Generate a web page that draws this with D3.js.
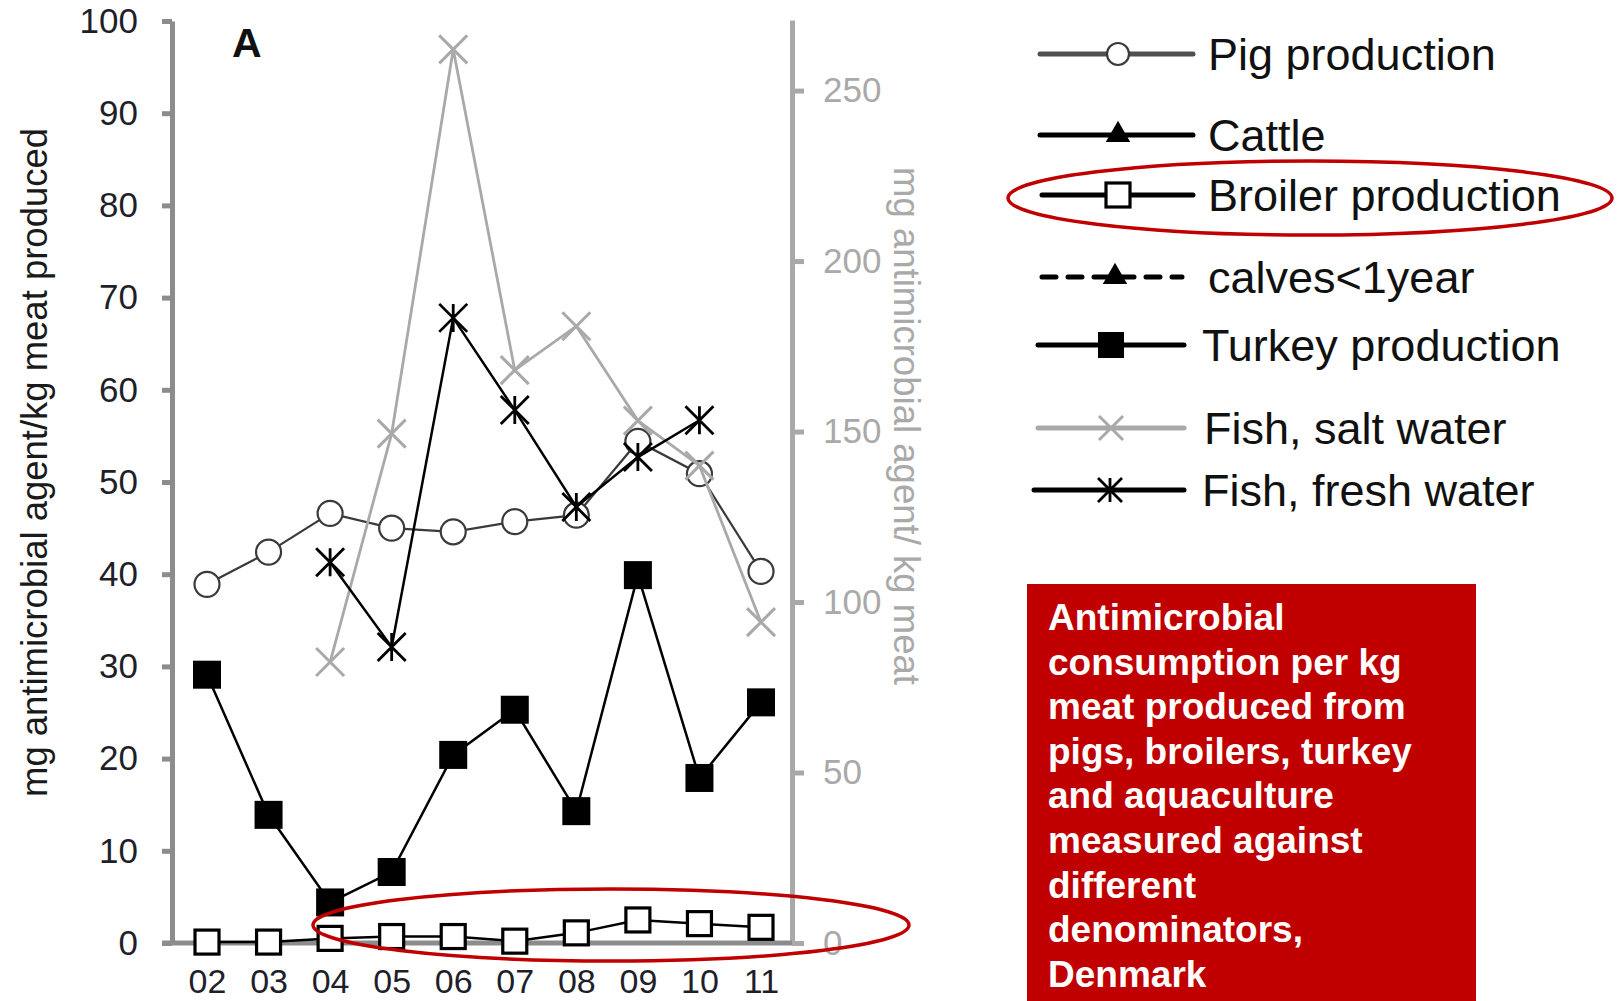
<!DOCTYPE html>
<html><head><meta charset="utf-8">
<script src="https://cdn.jsdelivr.net/npm/d3@7"></script>
<style>
body{margin:0;background:#fff}
svg{display:block;font-family:"Liberation Sans",Arial,Helvetica,sans-serif}
</style>
</head><body>
<svg id="chart" width="1618" height="1001"></svg>
<script>
// ---------- data ----------
const years = ["02","03","04","05","06","07","08","09","10","11"];
const pigProduction    = [38.9, 42.4, 46.6, 45.0, 44.6, 45.7, 46.4, 54.4, 50.9, 40.3];
const cattle           = [null, null, null, null, null, null, null, null, null, null];
const broilerProduction= [0.1, 0.1, 0.5, 0.7, 0.7, 0.2, 1.1, 2.5, 2.1, 1.7];
const calvesUnder1Year = [null, null, null, null, null, null, null, null, null, null];
const turkeyProduction = [29.1, 13.9, 4.4, 7.7, 20.4, 25.3, 14.3, 39.9, 17.9, 26.1];
const fishSaltWater    = [null, null, 82.4, 149.4, 262.1, 168.0, 180.9, 153.2, 140.0, 94.1]; // right axis
const fishFreshWater   = [null, null, 41.3, 32.1, 67.8, 57.8, 47.3, 52.7, 56.7, null];
const leftTicks  = [0,10,20,30,40,50,60,70,80,90,100];
const rightTicks = [0,50,100,150,200,250];
const leftTitle  = "mg antimicrobial agent/kg meat produced";
const rightTitle = "mg antimicrobial agent/ kg meat";
const panelLabel = "A";
const legendLabels = ["Pig production","Cattle","Broiler production","calves<1year","Turkey production","Fish, salt water","Fish, fresh water"];
const boxLines = ["Antimicrobial","consumption per kg","meat produced from","pigs, broilers, turkey","and aquaculture","measured against","different","denominators,","Denmark"];

// ---------- layout ----------
const svg = d3.select("#chart");
const L = {axL:172, axR:792, top:21, bottom:943, x0:207, x1:761};
const GRAY_AX = "#8c8c8c", GRAY_R = "#a9a9a9", RED = "#c00000";

const x  = d3.scalePoint().domain(years).range([L.x0, L.x1]);
const yL = d3.scaleLinear().domain([0,100]).range([L.bottom, L.top]);
const yR = d3.scaleLinear().domain([0,270.7]).range([L.bottom, 20]);

// left axis
const gL = svg.append("g").attr("transform",`translate(${L.axL},0)`)
  .call(d3.axisLeft(yL).tickValues(leftTicks).tickSize(10).tickSizeOuter(0).tickPadding(24));
gL.select(".domain").attr("stroke",GRAY_AX).attr("stroke-width",5);
gL.selectAll(".tick line").attr("stroke",GRAY_AX).attr("stroke-width",5);
gL.selectAll(".tick text").attr("font-size",35).attr("fill","#1f1f2a").attr("font-family","Liberation Sans, Arial");

// right axis
const gR = svg.append("g").attr("transform",`translate(${L.axR},0)`)
  .call(d3.axisRight(yR).tickValues(rightTicks).tickSize(12).tickSizeOuter(0).tickPadding(19));
gR.select(".domain").attr("stroke",GRAY_R).attr("stroke-width",5);
gR.selectAll(".tick line").attr("stroke",GRAY_R).attr("stroke-width",5);
gR.selectAll(".tick text").attr("font-size",35).attr("fill",GRAY_R).attr("font-family","Liberation Sans, Arial");

// baseline (x axis line)
svg.append("line").attr("x1",L.axL-10).attr("x2",L.axR).attr("y1",yL(0)).attr("y2",yL(0))
  .attr("stroke",GRAY_AX).attr("stroke-width",5);

// x axis labels
const gX = svg.append("g").attr("transform",`translate(0,${L.bottom})`)
  .call(d3.axisBottom(x).tickSize(0).tickPadding(26));
gX.select(".domain").remove();
gX.selectAll(".tick text").attr("font-size",34).attr("fill","#1f1f2a").attr("font-family","Liberation Sans, Arial");

// axis titles
svg.append("text").attr("transform",`translate(47,${(128+797)/2}) rotate(-90)`)
  .attr("text-anchor","middle").attr("font-size",36).attr("fill","#1a1a1a")
  .attr("textLength",669).attr("lengthAdjust","spacingAndGlyphs").text(leftTitle);
svg.append("text").attr("transform",`translate(894,${(167+685)/2}) rotate(90)`)
  .attr("text-anchor","middle").attr("font-size",36).attr("fill",GRAY_R)
  .attr("textLength",518).attr("lengthAdjust","spacingAndGlyphs").text(rightTitle);

svg.append("text").attr("x",232).attr("y",57).attr("font-size",41).attr("font-weight","bold")
  .attr("fill","#111").text(panelLabel);

// ---------- marker helpers ----------
function drawMarker(g, type, cx, cy, s){
  if(type==="circle"){
    g.append("circle").attr("cx",cx).attr("cy",cy).attr("r",s/2)
      .attr("fill","#fff").attr("stroke","#3a3a3a").attr("stroke-width",2.2);
  } else if(type==="filledSquare"){
    g.append("rect").attr("x",cx-s/2).attr("y",cy-s/2).attr("width",s).attr("height",s).attr("fill","#000");
  } else if(type==="openSquare"){
    g.append("rect").attr("x",cx-s/2).attr("y",cy-s/2).attr("width",s).attr("height",s)
      .attr("fill","#fff").attr("stroke","#000").attr("stroke-width",3.2);
  } else if(type==="triangle"){
    g.append("path").attr("transform",`translate(${cx},${cy})`)
      .attr("d",d3.symbol(d3.symbolTriangle, s*s*0.45)()).attr("fill","#000");
  } else if(type==="x"){
    const h=s/2;
    g.append("path").attr("d",`M${cx-h},${cy-h}L${cx+h},${cy+h}M${cx-h},${cy+h}L${cx+h},${cy-h}`)
      .attr("stroke",GRAY_R).attr("stroke-width",3).attr("fill","none");
  } else if(type==="star"){
    const h=s/2;
    g.append("path").attr("d",`M${cx-h},${cy-h}L${cx+h},${cy+h}M${cx-h},${cy+h}L${cx+h},${cy-h}M${cx},${cy-h}L${cx},${cy+h}`)
      .attr("stroke","#000").attr("stroke-width",2.8).attr("fill","none");
  }
}

// ---------- series ----------
const series = [
  {name:legendLabels[0], vals:pigProduction,    y:yL, stroke:"#3a3a3a", w:2.2, marker:"circle",       ms:25, lw:5, lstroke:"#505050"},
  {name:legendLabels[1], vals:cattle,           y:yL, stroke:"#000",    w:2.5, marker:"triangle",     ms:24, lw:5, lstroke:"#000"},
  {name:legendLabels[2], vals:broilerProduction,y:yL, stroke:"#000",    w:2.5, marker:"openSquare",   ms:24, lw:5, lstroke:"#000"},
  {name:legendLabels[3], vals:calvesUnder1Year, y:yL, stroke:"#000",    w:2.5, marker:"triangle",     ms:24, lw:5, lstroke:"#000", dash:"15,10"},
  {name:legendLabels[4], vals:turkeyProduction, y:yL, stroke:"#000",    w:2.5, marker:"filledSquare", ms:28, lw:5, lstroke:"#000"},
  {name:legendLabels[5], vals:fishSaltWater,    y:yR, stroke:GRAY_R,    w:2.8, marker:"x",            ms:28, lw:5, lstroke:GRAY_R},
  {name:legendLabels[6], vals:fishFreshWater,   y:yL, stroke:"#000",    w:2.5, marker:"star",         ms:28, lw:5, lstroke:"#000"}
];

const plot = svg.append("g");
series.forEach(s=>{
  const pts = years.map((yr,i)=>({yr, v:s.vals[i]})).filter(d=>d.v!==null);
  if(!pts.length) return;
  const line = d3.line().x(d=>x(d.yr)).y(d=>s.y(d.v));
  plot.append("path").datum(pts).attr("d",line).attr("fill","none")
    .attr("stroke",s.stroke).attr("stroke-width",s.w).attr("stroke-dasharray",s.dash||null);
  pts.forEach(d=>drawMarker(plot, s.marker, x(d.yr), s.y(d.v), s.ms));
});

// ---------- legend ----------
const legRows = [
  {y:54,  x1:1040, x2:1193, mx:1118, tx:1208},
  {y:135, x1:1040, x2:1193, mx:1118, tx:1208},
  {y:195, x1:1042, x2:1193, mx:1118, tx:1208},
  {y:277, x1:1042, x2:1182, mx:1115, tx:1208},
  {y:345, x1:1038, x2:1184, mx:1111, tx:1202},
  {y:428, x1:1038, x2:1184, mx:1111, tx:1204},
  {y:490, x1:1034, x2:1184, mx:1110, tx:1202}
];
const leg = svg.append("g");
series.forEach((s,i)=>{
  const r = legRows[i];
  leg.append("line").attr("x1",r.x1).attr("x2",r.x2).attr("y1",r.y).attr("y2",r.y)
    .attr("stroke",s.lstroke).attr("stroke-width",s.lw).attr("stroke-linecap","round")
    .attr("stroke-dasharray",s.dash?"14,12":null);
  drawMarker(leg, s.marker, r.mx, r.y, s.marker==="circle"?22:(s.marker==="filledSquare"?26:24));
  leg.append("text").attr("x",r.tx).attr("y",r.y+16).attr("font-size",45).attr("fill","#111").text(s.name);
});

// ---------- highlight ellipses ----------
svg.append("ellipse").attr("cx",1310).attr("cy",198).attr("rx",302).attr("ry",37)
  .attr("fill","none").attr("stroke",RED).attr("stroke-width",3.5);
svg.append("ellipse").attr("cx",611).attr("cy",925).attr("rx",298).attr("ry",36)
  .attr("fill","none").attr("stroke",RED).attr("stroke-width",3.5);

// ---------- red text box ----------
svg.append("rect").attr("x",1027).attr("y",584).attr("width",449).attr("height",1001-584).attr("fill",RED);
const bt = svg.append("text").attr("font-size",37).attr("font-weight","bold").attr("fill","#fff");
boxLines.forEach((t,i)=>{
  bt.append("tspan").attr("x",1048).attr("y",630+i*44.6).text(t);
});
</script>
</body></html>
